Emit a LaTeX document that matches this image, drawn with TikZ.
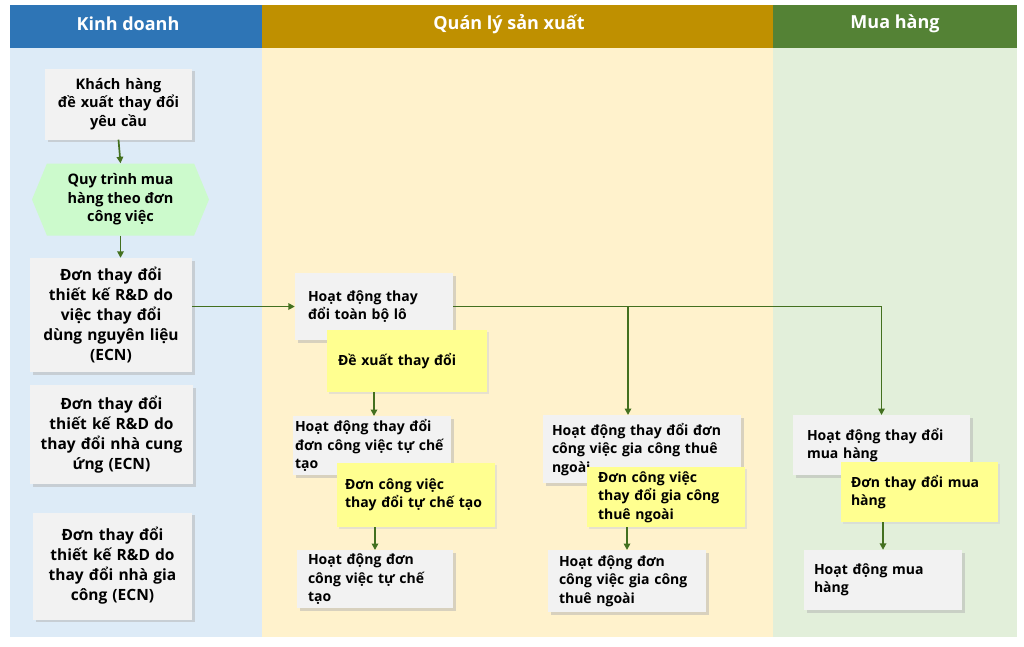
\documentclass[tikz,border=0pt]{standalone}
\usepackage{fontspec}
\setmainfont{Open Sans}
\usetikzlibrary{arrows.meta,shadows,shapes.symbols}
\definecolor{hblue}{HTML}{2E75B6}
\definecolor{hgold}{HTML}{BF9000}
\definecolor{hgreen}{HTML}{548235}
\definecolor{bblue}{HTML}{DDEBF7}
\definecolor{bgold}{HTML}{FFF2CC}
\definecolor{bgreen}{HTML}{E2EFDA}
\definecolor{boxgray}{HTML}{F2F2F2}
\definecolor{boxyellow}{HTML}{FFFF90}
\definecolor{hexgreen}{HTML}{CCFACC}
\definecolor{arrgreen}{HTML}{43701F}
\tikzset{
  header/.style={text=white, font=\fontsize{18}{20}\selectfont\bfseries, inner sep=0pt},
  gbox/.style={fill=boxgray, drop shadow={shadow xshift=2.5pt, shadow yshift=-2.5pt, fill=black!30}, font=\fontsize{14}{18.5}\selectfont\bfseries, inner ysep=2pt, align=left},
  lbox/.style={gbox, font=\fontsize{15.5}{20}\selectfont\bfseries, align=center},
  ybox/.style={fill=boxyellow, drop shadow={shadow xshift=2pt, shadow yshift=-2pt, fill=black!18}, font=\fontsize{14}{18.5}\selectfont\bfseries, inner ysep=2pt, align=left},
  flow/.style={draw=arrgreen, line width=1.7pt, -{Triangle[length=6.5pt,width=6.5pt]}}
}
\begin{document}
\begin{tikzpicture}[x=1pt,y=-1pt]
\useasboundingbox (0,0) rectangle (1024,646);
% lanes
\fill[bblue] (10,48) rectangle (262,637);
\fill[bgold] (262,48) rectangle (773,637);
\fill[bgreen] (773,48) rectangle (1017,637);
\fill[hblue] (10,5) rectangle (262,48);
\fill[hgold] (262,5) rectangle (773,48);
\fill[hgreen] (773,5) rectangle (1017,48);
\node[header] (h1) at (128,24) {Kinh doanh};
\node[header] (h2) at (509,24) {Quán lý sản xuất};
\node[header] (h3) at (895,24) {Mua hàng};
% left column
\node[gbox, align=center, font=\fontsize{14.5}{18.5}\selectfont\bfseries, minimum width=147, minimum height=71, text width=141, inner xsep=3] (kh) at (118.5,104) {Khách hàng\\đề xuất thay đổi\\yêu cầu};
\node[signal, signal to=east and west, signal pointer angle=135, fill=hexgreen, minimum width=177, minimum height=72, inner sep=0pt, font=\fontsize{14.5}{18.5}\selectfont\bfseries, align=center] (hx) at (120.5,199.5) {Quy trình mua\\hàng theo đơn\\công việc};
\node[lbox, minimum width=162, minimum height=114, text width=156, inner xsep=3] (d1) at (111,315) {Đơn thay đổi\\thiết kế R\&D do\\việc thay đổi\\dùng nguyên liệu\\(ECN)};
\node[lbox, minimum width=163, minimum height=99, text width=157, inner xsep=3] (d2) at (111.5,434.5) {Đơn thay đổi\\thiết kế R\&D do\\thay đổi nhà cung\\ứng (ECN)};
\node[lbox, minimum width=159, minimum height=107, text width=153, inner xsep=3] (d3) at (112.5,566) {Đơn thay đổi\\thiết kế R\&D do\\thay đổi nhà gia\\công (ECN)};
% production column
\node[gbox, minimum width=158, minimum height=67, inner xsep=13, text width=132] (lo) at (374,306.5) {Hoạt động thay\\đổi toàn bộ lô};
\node[ybox, minimum width=160, minimum height=62, inner xsep=11, text width=138] (dx) at (407,361) {Đề xuất thay đổi};
\node[gbox, minimum width=158, minimum height=59, inner xsep=2, text width=154, anchor=north] (tc1) at (372,416) {Hoạt động thay đổi\\đơn công việc tự chế\\tạo};
\node[ybox, minimum width=158, minimum height=64, inner xsep=8, text width=142] (tc2) at (416,495) {Đơn công việc\\thay đổi tự chế tạo};
\node[gbox, minimum width=156, minimum height=58, inner xsep=11, text width=134, anchor=north] (tc3) at (375,550) {Hoạt động đơn\\công việc tự chế\\tạo};
\node[gbox, minimum width=198, minimum height=68, inner xsep=9, text width=180, anchor=north] (gc1) at (642,415) {Hoạt động thay đổi đơn\\công việc gia công thuê\\ngoài};
\node[ybox, minimum width=158, minimum height=60, inner xsep=11, text width=136] (gc2) at (666,497) {Đơn công việc\\thay đổi gia công\\thuê ngoài};
\node[gbox, minimum width=158, minimum height=62, inner xsep=11, text width=136, anchor=north] (gc3) at (627,550) {Hoạt động đơn\\công việc gia công\\thuê ngoài};
% purchasing column
\node[gbox, minimum width=177, minimum height=60, inner xsep=14, text width=149, anchor=north] (mh1) at (881.5,415) {Hoạt động thay đổi\\mua hàng};
\node[ybox, minimum width=157, minimum height=60, inner xsep=10, text width=137] (mh2) at (919.5,492) {Đơn thay đổi mua\\hàng};
\node[gbox, minimum width=158, minimum height=60, inner xsep=10, text width=138] (mh3) at (883,580) {Hoạt động mua\\hàng};
% connectors
\draw[flow] (kh.south) -- (hx.north);
\draw[flow] (hx.south) -- (hx.south |- d1.north);
\draw[flow] (d1.east |- lo.west) -- (lo.west);
\coordinate (br) at (628,306.5);
\draw[flow] (lo.east) -| (mh1.north);
\draw[flow] (br) -- (br |- gc1.north);
\draw[flow] (lo |- dx.south) -- (lo |- tc1.north);
\draw[flow] (tc3 |- tc2.south) -- (tc3.north);
\draw[flow] (gc3 |- gc2.south) -- (gc3.north);
\draw[flow] (mh3 |- mh2.south) -- (mh3.north);
\end{tikzpicture}
\end{document}
